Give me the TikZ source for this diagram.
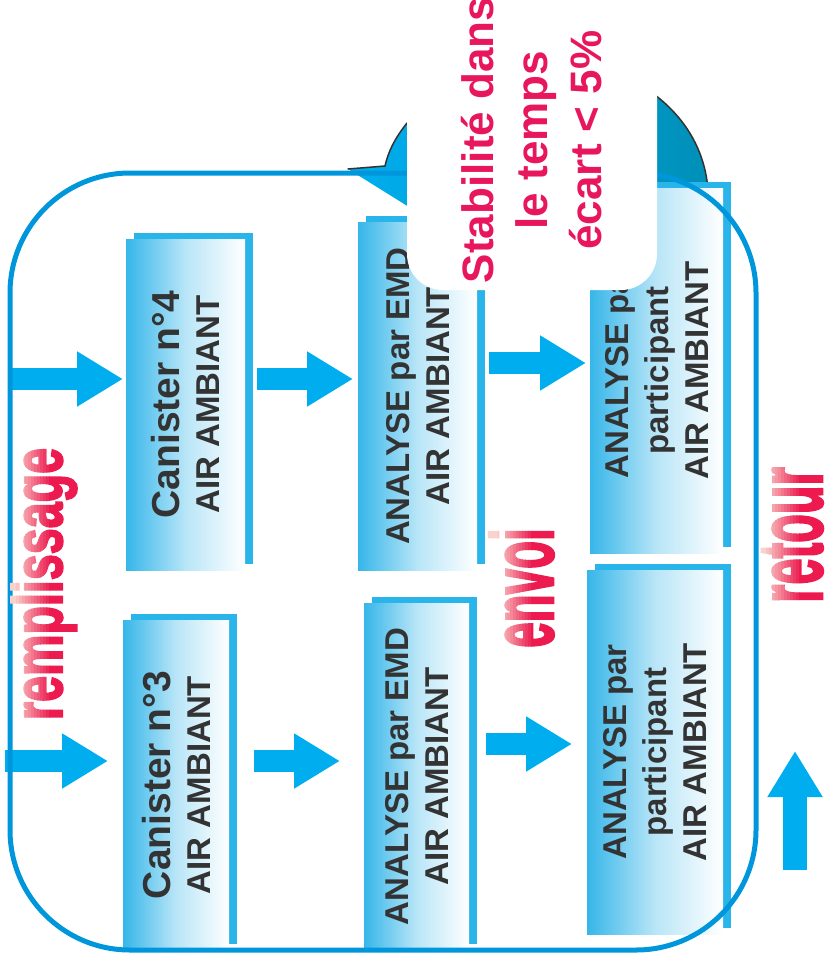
\documentclass[tikz,border=0pt]{standalone}
\usepackage{fontspec}
\setmainfont{Liberation Sans}
\newfontfamily\wordfont[BoldFeatures={FakeBold=3}]{Liberation Sans}
\usetikzlibrary{arrows.meta,shadows}

\definecolor{arrowblue}{HTML}{00AEEF}
\definecolor{frameblue}{HTML}{0096DB}
\definecolor{backblue}{HTML}{29B5EA}
\definecolor{boxblue}{HTML}{36B6E9}
\definecolor{inkgray}{HTML}{333333}
\definecolor{callred}{HTML}{E8175D}
\definecolor{labelred}{HTML}{EC1A4F}
\definecolor{labelpale}{HTML}{F9D2CB}
\definecolor{bubbleteal}{HTML}{0090B8}
\definecolor{bubbleedge}{HTML}{333333}

% lines of a box, read from bottom to top
\newcommand{\turned}[1]{\rotatebox{90}{\vbox{\halign{\hfil##\hfil\cr#1\crcr}}}}
% word shaded from pale (top of letters) to red (baseline)
\newcommand{\fadeword}[7]{%
  \foreach \s in {0,...,12}{%
    \pgfmathsetmacro{\xa}{\s==0 ? 0 : #6+3*\s-3}%
    \pgfmathsetmacro{\xb}{\s==12 ? 826 : #6+3*\s+0.5}%
    \pgfmathtruncatemacro{\mixpct}{100*\s/12}%
    \begin{scope}
      \clip (\xa,0) rectangle (\xb,955);
      \node[wordlabel,text=labelred!\mixpct!labelpale] (#1\s) at (#2,#3)
        {\fontsize{#4}{#4}\selectfont\scalebox{#5}[1]{#7}};
    \end{scope}}}

\begin{document}
\begin{tikzpicture}[x=1pt,y=-1pt,line cap=butt,
    stage/.style={rectangle,inner sep=0pt,outer sep=0pt,
      left color=boxblue,right color=white,middle color=boxblue!35!white,
      general shadow={fill=backblue,shadow scale=1,shadow xshift=8pt,shadow yshift=6pt},
      text=inkgray,font=\fontsize{33}{40}\selectfont\bfseries},
    flow/.style={draw=arrowblue,line width=22pt,-{Triangle[length=46pt,width=52pt]}},
    frameline/.style={draw=frameblue,line width=5pt,rounded corners=120pt},
    notebox/.style={fill=white,rounded corners=36pt,inner sep=0pt,text=callred,
      font=\fontsize{44}{54}\selectfont\bfseries},
    wordlabel/.style={rotate=90,inner sep=0pt,anchor=base,font=\wordfont\bfseries}]
  \useasboundingbox (0,0) rectangle (826,955);
  \node[inner sep=0pt,outer sep=0pt,minimum width=746pt,minimum height=777pt] (loop) at (383,561.5) {};

  % speech bubble behind the note
  \shade[left color=arrowblue,right color=bubbleteal]
    (348,169) -- (385,166) .. controls (388,152) and (395,138) .. (407,123)
    -- (409,100) -- (655,95) .. controls (685,118) and (705,150) .. (708,190)
    -- (708,260) -- (409,260) -- (409,207) -- cycle;
  \draw[bubbleedge,line width=1.5pt,line cap=round]
    (348,169) -- (385,166) .. controls (388,152) and (395,138) .. (407,123);
  \draw[bubbleedge,line width=1.5pt] (655,95) .. controls (685,118) and (705,150) .. (708,190);

  \node[stage,minimum width=119pt,minimum height=331pt] (c4) at (185.5,404.5)
    {\turned{{\fontsize{39}{40}\selectfont Canister n°4}\cr AIR AMBIANT}};
  \node[stage,minimum width=106pt,minimum height=330pt] (c3) at (176,785)
    {\turned{{\fontsize{39}{40}\selectfont Canister n°3}\cr AIR AMBIANT}};
  \node[stage,minimum width=119pt,minimum height=348pt] (e4) at (417.5,396)
    {\turned{ANALYSE par EMD\cr AIR AMBIANT}};
  \node[stage,minimum width=105pt,minimum height=347pt] (e3) at (416.5,776.5)
    {\turned{ANALYSE par EMD\cr AIR AMBIANT}};
  \node[stage,minimum width=133pt,minimum height=365pt] (p4) at (656.5,370.5)
    {\turned{ANALYSE par\cr participant\cr AIR AMBIANT}};
  \node[stage,minimum width=136pt,minimum height=364pt] (p3) at (655,752)
    {\turned{ANALYSE par\cr participant\cr AIR AMBIANT}};

  \coordinate (rowA) at (0,379);
  \coordinate (rowA3) at (0,363);
  \coordinate (rowB) at (0,761);
  \coordinate (rowB3) at (0,744);
  \draw[flow,shorten >=3pt] (loop.west |- rowA) -- (c4.west |- rowA);
  \draw[flow,shorten <=12pt,shorten >=5pt] (c4.east |- rowA) -- (e4.west |- rowA);
  \draw[flow,shorten <=12pt,shorten >=4pt] (e4.east |- rowA3) -- (p4.west |- rowA3);
  \draw[flow,shorten <=-5pt,shorten >=15pt] (loop.west |- rowB) -- (c3.west |- rowB);
  \draw[flow,shorten <=25pt,shorten >=24pt] (c3.east |- rowB) -- (e3.west |- rowB);
  \draw[flow,shorten <=17pt,shorten >=15pt] (e3.east |- rowB3) -- (p3.west |- rowB3);
  \coordinate (back-start) at (795,870);
  \coordinate (back-end) at (795,751);
  \draw[flow,line width=24pt] (back-start) -- (back-end);

  \draw[frameline] (loop.south west) rectangle (loop.north east);

  \node[notebox,minimum width=250pt,minimum height=300pt] (note) at (532,140)
    {\turned{Stabilité dans\cr le temps\cr écart < 5\%}};

  \fadeword{rempl}{62}{584}{70}{0.666}{16}{remplissage}
  \fadeword{envoi}{553}{588}{88}{0.52}{498}{envoi}
  \fadeword{retour}{822}{535}{92}{0.51}{766}{retour}
\end{tikzpicture}
\end{document}
